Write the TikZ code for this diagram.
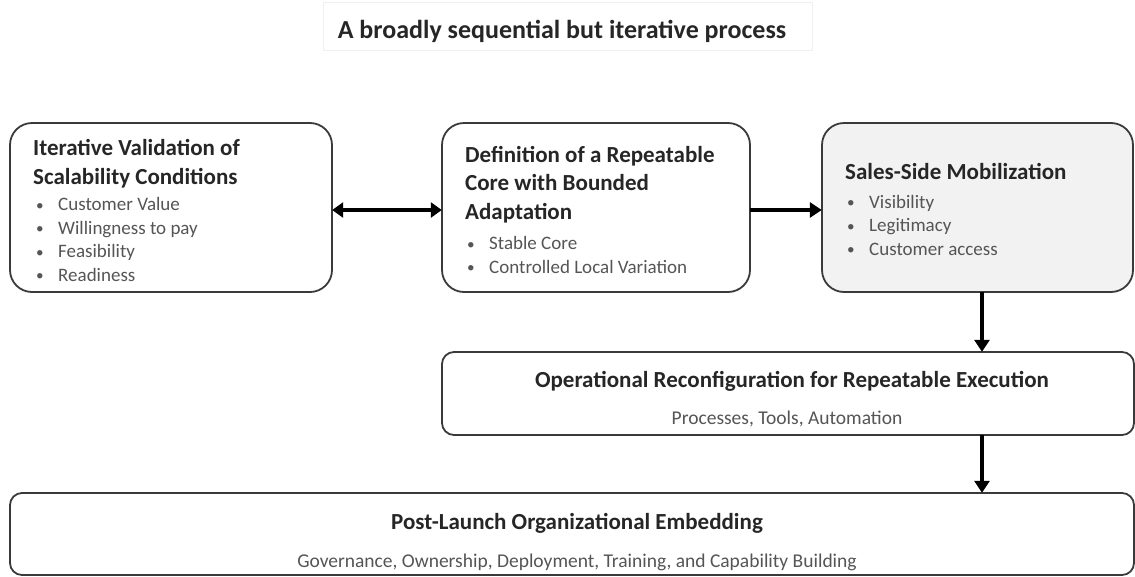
\documentclass[tikz,border=0pt]{standalone}
\usepackage{fontspec}
\setmainfont{Carlito}
\usetikzlibrary{arrows.meta}
\definecolor{edge}{HTML}{3A3A3A}
\definecolor{headtext}{HTML}{262626}
\definecolor{bodytext}{HTML}{555555}
\definecolor{panel}{HTML}{F2F2F2}
\newcommand{\bitem}[1]{\makebox[22pt][l]{\raisebox{0.5pt}{\scalebox{0.8}{•}}}#1}
\begin{document}
\begin{tikzpicture}[x=1pt,y=-1pt,
  stagebox/.style={draw=edge, line width=1.8pt, rounded corners=22pt, fill=white},
  widebox/.style={draw=edge, line width=1.8pt, rounded corners=12pt, fill=white},
  headline/.style={font=\fontsize{23}{28.5}\selectfont\bfseries, text=headtext, inner sep=0pt, align=left},
  bullets/.style={font=\fontsize{19}{23.5}\selectfont, text=bodytext, inner sep=0pt, align=left},
  subline/.style={font=\fontsize{19.5}{23}\selectfont, text=bodytext, inner sep=0pt},
  flow/.style={line width=3.5pt, -{Triangle[width=15pt,length=12pt]}},
  twoway/.style={line width=3.5pt, {Triangle[width=15pt,length=11pt]}-{Triangle[width=15pt,length=11pt]}}
]
\useasboundingbox (0,0) rectangle (1135,576);

% heading strip
\draw[draw=black!6, line width=0.8pt] (323,2) rectangle (812,50);
\node[font=\fontsize{26}{30}\selectfont\bfseries, text=headtext, inner sep=0pt, anchor=base]
  (heading) at (562,38) {A broadly sequential but iterative process};

% upper row of stages
\path[stagebox] (10,123) rectangle (332,292);
\node[minimum width=322pt, minimum height=169pt, inner sep=0pt] (validate) at (171,207.5) {};
\path[stagebox] (442,123) rectangle (750,292);
\node[minimum width=308pt, minimum height=169pt, inner sep=0pt] (core) at (596,207.5) {};
\path[stagebox, fill=panel] (822,123) rectangle (1133,292);
\node[minimum width=311pt, minimum height=169pt, inner sep=0pt] (sales) at (977.5,207.5) {};

% multi-line texts are placed by the baseline of their last line
\node[headline, anchor=base west] (validateT) at (33,184)
  {Iterative Validation of\\Scalability Conditions};
\node[bullets, anchor=base west] (validateL) at (36,281)
  {\bitem{Customer Value}\\\bitem{Willingness to pay}\\\bitem{Feasibility}\\\bitem{Readiness}};

\node[headline, anchor=base west] (coreT) at (465,219)
  {Definition of a Repeatable\\Core with Bounded\\Adaptation};
\node[bullets, anchor=base west] (coreL) at (467,273)
  {\bitem{Stable Core}\\\bitem{Controlled Local Variation}};

\node[headline, anchor=base west] (salesT) at (845,179) {Sales-Side Mobilization};
\node[bullets, anchor=base west] (salesL) at (847,255)
  {\bitem{Visibility}\\\bitem{Legitimacy}\\\bitem{Customer access}};

% lower stages
\path[widebox] (442,352) rectangle (1134,435);
\node[minimum width=692pt, minimum height=83pt, inner sep=0pt] (ops) at (788,393.5) {};
\node[headline, anchor=base] (opsT) at (792,387) {Operational Reconfiguration for Repeatable Execution};
\node[subline, anchor=base] (opsS) at (787,424) {Processes, Tools, Automation};

\path[widebox] (10,493) rectangle (1134,575);
\node[minimum width=1124pt, minimum height=82pt, inner sep=0pt] (embed) at (572,534) {};
\node[headline, anchor=base] (embedT) at (577,529) {Post-Launch Organizational Embedding};
\node[subline, anchor=base] (embedS) at (577,567) {Governance, Ownership, Deployment, Training, and Capability Building};

% connectors
\coordinate (row) at (0,210);
\coordinate (col) at (982,0);
\draw[twoway] (validate.east |- row) -- (core.west |- row);
\draw[flow] (core.east |- row) -- (sales.west |- row);
\draw[flow] (sales.south -| col) -- (ops.north -| col);
\draw[flow] (ops.south -| col) -- (embed.north -| col);
\end{tikzpicture}
\end{document}
